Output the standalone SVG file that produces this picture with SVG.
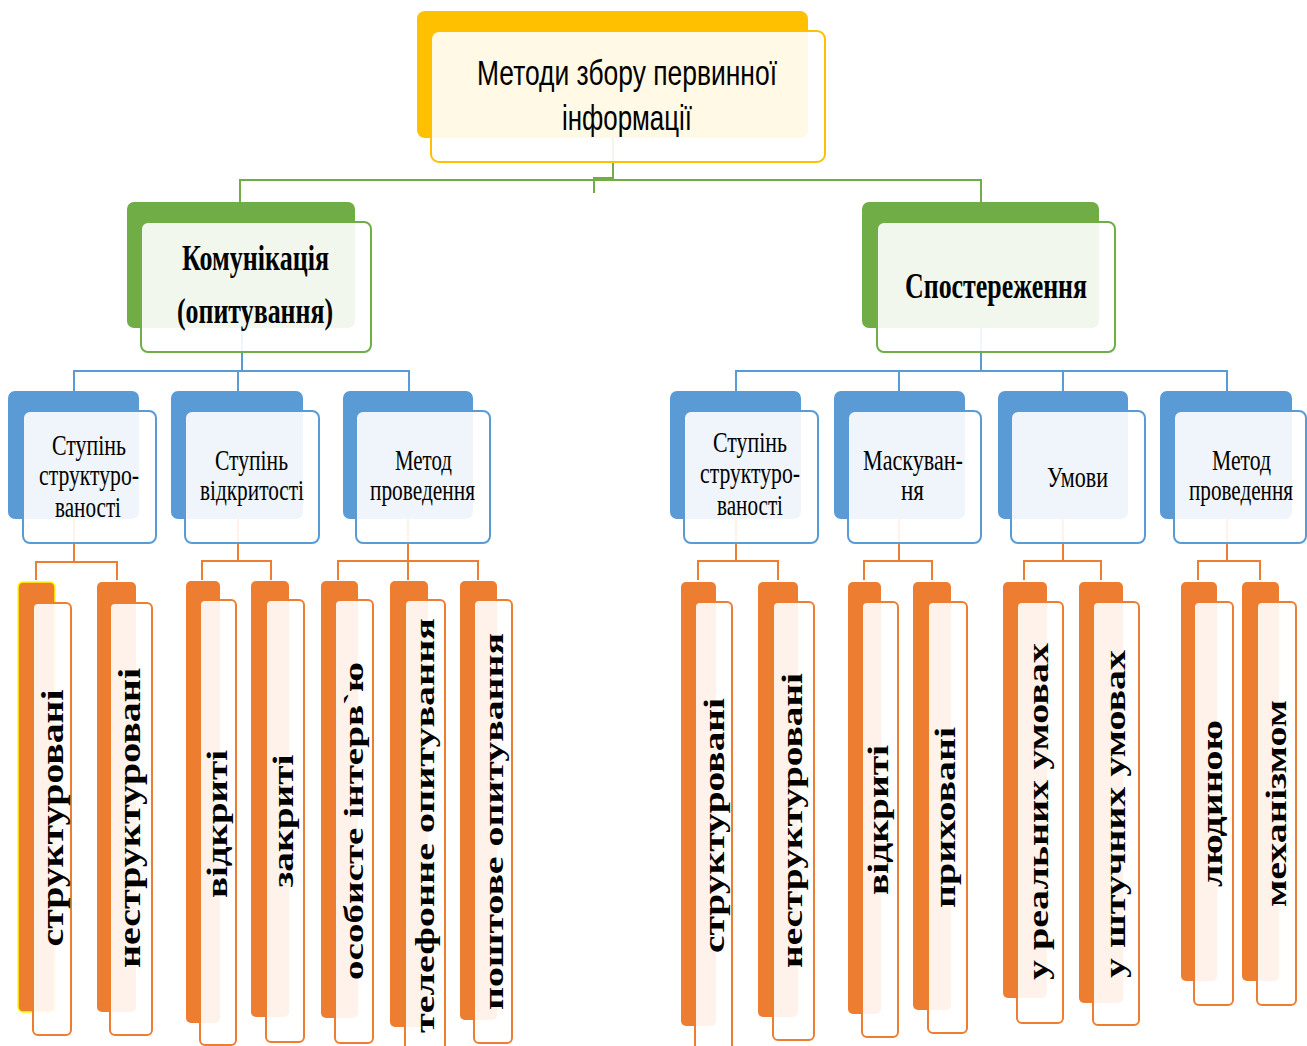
<svg xmlns="http://www.w3.org/2000/svg" width="1307" height="1046" viewBox="0 0 1307 1046">
  <style>
    .bg { fill: #ffffff; }
    .wire { fill: none; stroke-width: 2; }
    .w-green { stroke: #70AD47; }
    .w-blue { stroke: #5B9BD5; }
    .w-orange { stroke: #ED7D31; }
    .face { fill: #ffffff; fill-opacity: 0.9; stroke-width: 2; }
    .gold-back { fill: #FFC000; }
    .gold-face { stroke: #FFC000; }
    .green-back { fill: #70AD47; }
    .green-face { stroke: #70AD47; }
    .blue-back { fill: #5B9BD5; }
    .blue-face { stroke: #5B9BD5; }
    .orange-back { fill: #ED7D31; }
    .orange-face { stroke: #ED7D31; }
    .title { font-family: "Liberation Sans", "DejaVu Sans", sans-serif; font-size: 35px; fill: #000; }
    .lvl2 { font-family: "Liberation Serif", "DejaVu Serif", serif; font-weight: bold; font-size: 36px; fill: #000; }
    .lvl3 { font-family: "Liberation Serif", "DejaVu Serif", serif; font-size: 29px; fill: #000; }
    .leaf { font-family: "Liberation Serif", "DejaVu Serif", serif; font-weight: bold; font-size: 30px; fill: #000; }
  </style>

  <rect class="bg" x="0" y="0" width="1307" height="1046"/>

  <!-- connectors sit behind the translucent node faces -->
  <g id="connectors">
    <path class="wire w-green" d="M613,138 V180 M240,202 V180 H981 V202 M613,178 H594 V193"/>
    <path class="wire w-blue" d="M242,328 V371 M74,391 V371 H409 V391 M238,371 V391"/>
    <path class="wire w-blue" d="M981,328 V371 M736,391 V371 H1227 V391 M899,371 V391 M1063,371 V391"/>
    <path class="wire w-orange" d="M74,519 V562 M36,580 V562 H117 V580"/>
    <path class="wire w-orange" d="M238,519 V561 M202,580 V561 H271 V580"/>
    <path class="wire w-orange" d="M408,519 V580 M338,580 V561 H478 V580"/>
    <path class="wire w-orange" d="M736,519 V561 M698,580 V561 H778 V580"/>
    <path class="wire w-orange" d="M899,519 V561 M864,580 V561 H932 V580"/>
    <path class="wire w-orange" d="M1063,519 V561 M1024,580 V561 H1101 V580"/>
    <path class="wire w-orange" d="M1227,519 V561 M1198,580 V561 H1260 V580"/>
  </g>

  <!-- root -->
  <g id="node-root">
    <rect class="gold-back" x="417" y="11" width="391" height="127" rx="8"/>
    <rect class="face gold-face" x="431" y="31" width="394" height="131" rx="8"/>
    <text class="title" x="477" y="85" textLength="300" lengthAdjust="spacingAndGlyphs">Методи збору первинної</text>
    <text class="title" x="562" y="130" textLength="130" lengthAdjust="spacingAndGlyphs">інформації</text>
  </g>

  <!-- second level -->
  <g id="node-communication">
    <rect class="green-back" x="127" y="202" width="228" height="126" rx="7"/>
    <rect class="face green-face" x="141" y="222" width="230" height="130" rx="7"/>
    <text class="lvl2" x="182" y="270" textLength="147" lengthAdjust="spacingAndGlyphs">Комунікація</text>
    <text class="lvl2" x="177" y="323" textLength="156" lengthAdjust="spacingAndGlyphs">(опитування)</text>
  </g>
  <g id="node-observation">
    <rect class="green-back" x="862" y="202" width="237" height="126" rx="7"/>
    <rect class="face green-face" x="877" y="222" width="238" height="130" rx="7"/>
    <text class="lvl2" x="905" y="298" textLength="182" lengthAdjust="spacingAndGlyphs">Спостереження</text>
  </g>

  <!-- third level, survey branch -->
  <g id="node-c-structure">
    <rect class="blue-back" x="8" y="391" width="131" height="128" rx="7"/>
    <rect class="face blue-face" x="23" y="411" width="133" height="132" rx="7"/>
    <text class="lvl3" x="52" y="455" textLength="74" lengthAdjust="spacingAndGlyphs">Ступінь</text>
    <text class="lvl3" x="39" y="485" textLength="100" lengthAdjust="spacingAndGlyphs">структуро-</text>
    <text class="lvl3" x="55" y="517" textLength="66" lengthAdjust="spacingAndGlyphs">ваності</text>
  </g>
  <g id="node-c-openness">
    <rect class="blue-back" x="171" y="391" width="132" height="128" rx="7"/>
    <rect class="face blue-face" x="185" y="411" width="134" height="132" rx="7"/>
    <text class="lvl3" x="215" y="470" textLength="73" lengthAdjust="spacingAndGlyphs">Ступінь</text>
    <text class="lvl3" x="200" y="500" textLength="104" lengthAdjust="spacingAndGlyphs">відкритості</text>
  </g>
  <g id="node-c-method">
    <rect class="blue-back" x="343" y="391" width="130" height="128" rx="7"/>
    <rect class="face blue-face" x="356" y="411" width="134" height="132" rx="7"/>
    <text class="lvl3" x="395" y="470" textLength="57" lengthAdjust="spacingAndGlyphs">Метод</text>
    <text class="lvl3" x="370" y="500" textLength="105" lengthAdjust="spacingAndGlyphs">проведення</text>
  </g>

  <!-- third level, observation branch -->
  <g id="node-o-structure">
    <rect class="blue-back" x="670" y="391" width="131" height="128" rx="7"/>
    <rect class="face blue-face" x="684" y="411" width="134" height="132" rx="7"/>
    <text class="lvl3" x="713" y="452" textLength="74" lengthAdjust="spacingAndGlyphs">Ступінь</text>
    <text class="lvl3" x="700" y="483" textLength="100" lengthAdjust="spacingAndGlyphs">структуро-</text>
    <text class="lvl3" x="717" y="515" textLength="66" lengthAdjust="spacingAndGlyphs">ваності</text>
  </g>
  <g id="node-o-masking">
    <rect class="blue-back" x="834" y="391" width="131" height="128" rx="7"/>
    <rect class="face blue-face" x="848" y="411" width="133" height="132" rx="7"/>
    <text class="lvl3" x="863" y="470" textLength="100" lengthAdjust="spacingAndGlyphs">Маскуван-</text>
    <text class="lvl3" x="901" y="500" textLength="23" lengthAdjust="spacingAndGlyphs">ня</text>
  </g>
  <g id="node-o-conditions">
    <rect class="blue-back" x="998" y="391" width="130" height="128" rx="7"/>
    <rect class="face blue-face" x="1011" y="411" width="134" height="132" rx="7"/>
    <text class="lvl3" x="1047" y="487" textLength="61" lengthAdjust="spacingAndGlyphs">Умови</text>
  </g>
  <g id="node-o-method">
    <rect class="blue-back" x="1160" y="391" width="132" height="128" rx="7"/>
    <rect class="face blue-face" x="1174" y="411" width="132" height="132" rx="7"/>
    <text class="lvl3" x="1212" y="470" textLength="59" lengthAdjust="spacingAndGlyphs">Метод</text>
    <text class="lvl3" x="1189" y="500" textLength="104" lengthAdjust="spacingAndGlyphs">проведення</text>
  </g>

  <!-- leaves, survey branch -->
  <g id="leaf-c-structured">
    <rect class="orange-back" x="18" y="582" width="37" height="430" rx="5" stroke="#FFFF00" stroke-width="1.5"/>
    <rect class="face orange-face" x="33" y="603" width="38" height="432" rx="5"/>
    <text class="leaf" style="font-size:32px" transform="translate(63,818) rotate(-90)" x="-128.5" y="0" textLength="257" lengthAdjust="spacingAndGlyphs">структуровані</text>
  </g>
  <g id="leaf-c-unstructured">
    <rect class="orange-back" x="97" y="582" width="39" height="430" rx="5"/>
    <rect class="face orange-face" x="110" y="603" width="42" height="432" rx="5"/>
    <text class="leaf" style="font-size:32px" transform="translate(140,818) rotate(-90)" x="-150" y="0" textLength="300" lengthAdjust="spacingAndGlyphs">неструктуровані</text>
  </g>
  <g id="leaf-c-open">
    <rect class="orange-back" x="186" y="581" width="34" height="442" rx="5"/>
    <rect class="face orange-face" x="200" y="600" width="36" height="445" rx="5"/>
    <text class="leaf" transform="translate(227,824) rotate(-90)" x="-74" y="0" textLength="148" lengthAdjust="spacingAndGlyphs">відкриті</text>
  </g>
  <g id="leaf-c-closed">
    <rect class="orange-back" x="251" y="581" width="38" height="436" rx="5"/>
    <rect class="face orange-face" x="266" y="600" width="38" height="442" rx="5"/>
    <text class="leaf" transform="translate(293,821) rotate(-90)" x="-66.5" y="0" textLength="133" lengthAdjust="spacingAndGlyphs">закриті</text>
  </g>
  <g id="leaf-c-personal">
    <rect class="orange-back" x="321" y="581" width="37" height="437" rx="5"/>
    <rect class="face orange-face" x="335" y="600" width="38" height="443" rx="5"/>
    <text class="leaf" style="font-size:28px" transform="translate(363,821) rotate(-90)" x="-159" y="0" textLength="318" lengthAdjust="spacingAndGlyphs">особисте інтерв`ю</text>
  </g>
  <g id="leaf-c-phone">
    <rect class="orange-back" x="390" y="581" width="38" height="446" rx="5"/>
    <rect class="face orange-face" x="405" y="600" width="40" height="452" rx="5"/>
    <text class="leaf" style="font-size:28px" transform="translate(434,825.5) rotate(-90)" x="-207.5" y="0" textLength="415" lengthAdjust="spacingAndGlyphs">телефонне опитування</text>
  </g>
  <g id="leaf-c-mail">
    <rect class="orange-back" x="460" y="581" width="37" height="439" rx="5"/>
    <rect class="face orange-face" x="474" y="600" width="38" height="443" rx="5"/>
    <text class="leaf" style="font-size:28px" transform="translate(503,821.5) rotate(-90)" x="-188.5" y="0" textLength="377" lengthAdjust="spacingAndGlyphs">поштове опитування</text>
  </g>

  <!-- leaves, observation branch -->
  <g id="leaf-o-structured">
    <rect class="orange-back" x="681" y="582" width="35" height="444" rx="5"/>
    <rect class="face orange-face" x="695" y="602" width="37" height="450" rx="5"/>
    <text class="leaf" transform="translate(724,825.5) rotate(-90)" x="-127.5" y="0" textLength="255" lengthAdjust="spacingAndGlyphs">структуровані</text>
  </g>
  <g id="leaf-o-unstructured">
    <rect class="orange-back" x="758" y="582" width="40" height="435" rx="5"/>
    <rect class="face orange-face" x="773" y="602" width="41" height="438" rx="5"/>
    <text class="leaf" transform="translate(802,820.5) rotate(-90)" x="-147.5" y="0" textLength="295" lengthAdjust="spacingAndGlyphs">неструктуровані</text>
  </g>
  <g id="leaf-o-open">
    <rect class="orange-back" x="848" y="582" width="33" height="432" rx="5"/>
    <rect class="face orange-face" x="862" y="602" width="36" height="435" rx="5"/>
    <text class="leaf" transform="translate(888,820) rotate(-90)" x="-75" y="0" textLength="150" lengthAdjust="spacingAndGlyphs">відкриті</text>
  </g>
  <g id="leaf-o-hidden">
    <rect class="orange-back" x="913" y="582" width="38" height="428" rx="5"/>
    <rect class="face orange-face" x="928" y="602" width="39" height="431" rx="5"/>
    <text class="leaf" transform="translate(955,817.5) rotate(-90)" x="-90.5" y="0" textLength="181" lengthAdjust="spacingAndGlyphs">приховані</text>
  </g>
  <g id="leaf-o-real">
    <rect class="orange-back" x="1003" y="582" width="44" height="416" rx="5"/>
    <rect class="face orange-face" x="1017" y="602" width="46" height="421" rx="5"/>
    <text class="leaf" transform="translate(1048,811.5) rotate(-90)" x="-168.5" y="0" textLength="337" lengthAdjust="spacingAndGlyphs">у реальних умовах</text>
  </g>
  <g id="leaf-o-artificial">
    <rect class="orange-back" x="1079" y="582" width="44" height="421" rx="5"/>
    <rect class="face orange-face" x="1093" y="602" width="46" height="423" rx="5"/>
    <text class="leaf" transform="translate(1125,814) rotate(-90)" x="-164" y="0" textLength="328" lengthAdjust="spacingAndGlyphs">у штучних умовах</text>
  </g>
  <g id="leaf-o-human">
    <rect class="orange-back" x="1181" y="582" width="36" height="399" rx="5"/>
    <rect class="face orange-face" x="1194" y="602" width="39" height="403" rx="5"/>
    <text class="leaf" transform="translate(1222,803.5) rotate(-90)" x="-83.5" y="0" textLength="167" lengthAdjust="spacingAndGlyphs">людиною</text>
  </g>
  <g id="leaf-o-mechanism">
    <rect class="orange-back" x="1242" y="582" width="37" height="399" rx="5"/>
    <rect class="face orange-face" x="1257" y="602" width="39" height="403" rx="5"/>
    <text class="leaf" transform="translate(1286,803.5) rotate(-90)" x="-103.5" y="0" textLength="207" lengthAdjust="spacingAndGlyphs">механізмом</text>
  </g>
</svg>
